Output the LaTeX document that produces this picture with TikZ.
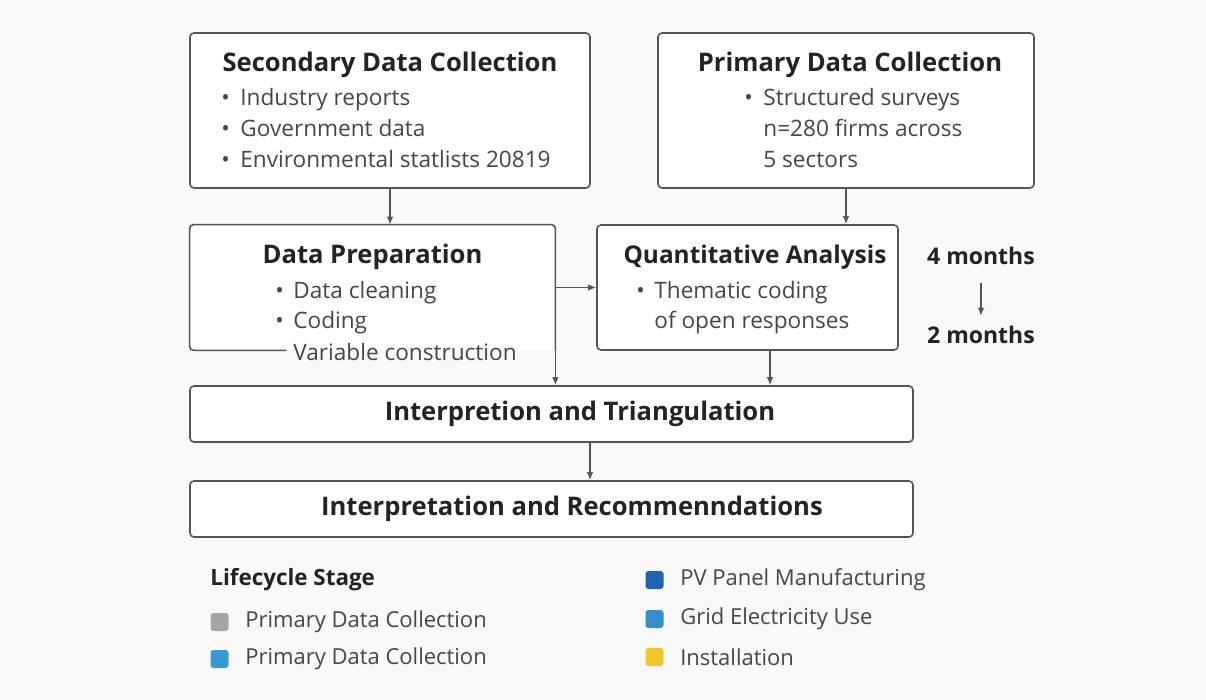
\documentclass[tikz,border=0pt]{standalone}
\usepackage{fontspec}
\setmainfont{Open Sans}
\usetikzlibrary{positioning,arrows.meta}
\definecolor{bgcol}{RGB}{249,249,249}
\definecolor{linecol}{RGB}{85,85,85}
\definecolor{ttlcol}{RGB}{35,35,35}
\definecolor{bodycol}{RGB}{70,70,70}
\definecolor{stgray}{RGB}{165,165,165}
\definecolor{stblue}{RGB}{55,155,210}
\definecolor{stdark}{RGB}{30,100,175}
\definecolor{stgrid}{RGB}{50,145,205}
\definecolor{styellow}{RGB}{242,200,40}

\begin{document}
\begin{tikzpicture}[x=0.5pt,y=-0.5pt,
  box/.style={draw=linecol,line width=0.8pt,fill=white,rounded corners=2pt,inner sep=0pt},
  ttl/.style={font=\bfseries\fontsize{12.8}{15}\selectfont,text=ttlcol,inner sep=0pt},
  itm/.style={font=\fontsize{11.3}{13}\selectfont,text=bodycol,anchor=mid west,inner sep=0pt},
  key/.style={minimum size=9pt,inner sep=0pt,rounded corners=1.5pt},
  arr/.style={draw=linecol,line width=0.6pt,-{Latex[length=4pt,width=3.2pt]}}]
\fill[bgcol] (0,0) rectangle (1206,700);
\useasboundingbox (0,0) rectangle (1206,700);
% boxes
\node[box,minimum width=200pt,minimum height=77.5pt] (sec) at (390,110.5) {};
\node[box,minimum width=188pt,minimum height=77.5pt] (prim) at (846,110.5) {};
\node[fill=white,inner sep=0pt,minimum width=182.5pt,minimum height=62.5pt] (prep) at (372.5,287.5) {};
\node[box,minimum width=150.5pt,minimum height=62.5pt] (quant) at (747.5,287.5) {};
\node[box,minimum width=361.5pt,minimum height=28pt] (interp) at (551.5,414) {};
\node[box,minimum width=361.5pt,minimum height=28pt] (recs) at (551.5,509) {};
% titles
\node[ttl] (secT) at (390,65) {Secondary Data Collection};
\node[ttl] (primT) at (850,65) {Primary Data Collection};
\node[ttl] (prepT) at (372.5,257) {Data Preparation};
\node[ttl,font=\bfseries\fontsize{12.2}{15}\selectfont] (quantT) at (755,257) {Quantitative Analysis};
\node[ttl] (interpT) at (580,414) {Interpretion and Triangulation};
\node[ttl] (recsT) at (572,509) {Interpretation and Recommenndations};
% items
\node[itm] (sec1) at (221,100) {\makebox[9.5pt][l]{\textbullet}Industry reports};
\node[itm] (sec2) at (221,131) {\makebox[9.5pt][l]{\textbullet}Government data};
\node[itm] (sec3) at (221,162) {\makebox[9.5pt][l]{\textbullet}Environmental statlists 20819};
\node[itm] (prim1) at (744,100) {\makebox[9.5pt][l]{\textbullet}Structured surveys};
\node[itm] (prim2) at (763,131) {n=280 firms across};
\node[itm] (prim3) at (763,162) {5 sectors};
\node[itm] (prep1) at (275,293) {\makebox[9pt][l]{\textbullet}Data cleaning};
\node[itm] (prep2) at (275,323) {\makebox[9pt][l]{\textbullet}Coding};
\node[itm] (prep3) at (293,355) {Variable construction};
\node[itm] (quant1) at (636,293) {\makebox[9pt][l]{\textbullet}Thematic coding};
\node[itm] (quant2) at (654,323) {of open responses};
% time span
\node[ttl,font=\bfseries\fontsize{11.5}{14}\selectfont] (m4) at (981,256) {4 months};
\node[ttl,font=\bfseries\fontsize{11.5}{14}\selectfont] (m2) at (981,335) {2 months};
% connectors
\coordinate (qa) at ([xshift=11.25pt]quant.south);
\coordinate (ia) at ([xshift=19.25pt]interp.south);
\draw[linecol,line width=0.8pt,rounded corners=2pt] ([xshift=48.5pt]prep.south west) -- (prep.south west) -- (prep.north west) -- (prep.north east) -- (prep.south east);
\draw[arr] (prep.south east) -- (prep.east |- interp.north);
\draw[arr] (sec.south) -- (sec.south |- prep.north);
\draw[arr] (prim.south) -- (prim.south |- quant.north);
\draw[arr] (prep.east) -- (quant.west);
\draw[arr] (qa) -- (qa |- interp.north);
\draw[arr] (ia) -- (ia |- recs.north);
\draw[arr,shorten <=9pt,shorten >=5pt] (m4.south) -- (m2.north);
% legend
\node[ttl,font=\bfseries\fontsize{11.2}{13}\selectfont,anchor=mid west] (legT) at (210,580) {Lifecycle Stage};
\node[key,fill=stgray] (k1) at (219.5,622) {};
\node[key,fill=stblue] (k2) at (219.5,659) {};
\node[key,fill=stdark] (k3) at (654.5,580) {};
\node[key,fill=stgrid] (k4) at (654.5,619) {};
\node[key,fill=styellow] (k5) at (654.5,657) {};
\node[itm,font=\fontsize{11}{13}\selectfont,right=8pt of k1] (l1) {Primary Data Collection};
\node[itm,font=\fontsize{11}{13}\selectfont,right=8pt of k2] (l2) {Primary Data Collection};
\node[itm,font=\fontsize{11}{13}\selectfont,right=8pt of k3] (l3) {PV Panel Manufacturing};
\node[itm,font=\fontsize{11}{13}\selectfont,right=8pt of k4] (l4) {Grid Electricity Use};
\node[itm,font=\fontsize{11}{13}\selectfont,right=8pt of k5] (l5) {Installation};
\end{tikzpicture}
\end{document}
